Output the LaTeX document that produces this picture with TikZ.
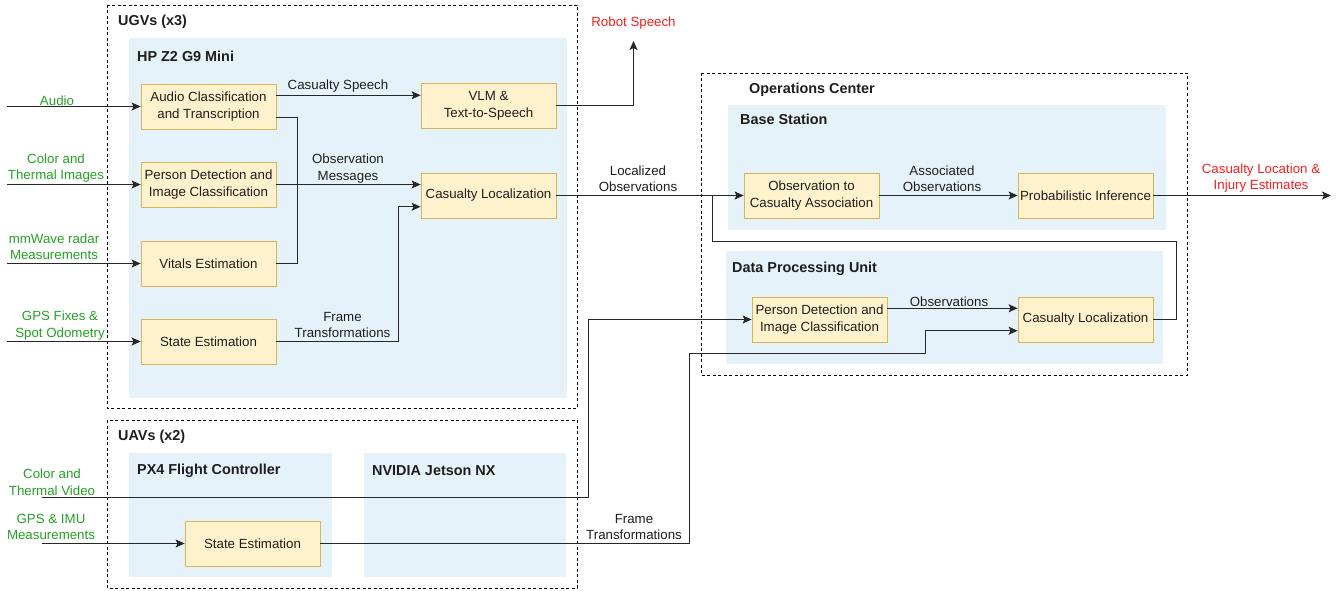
\documentclass[tikz,border=0pt]{standalone}
\usepackage{fontspec}
\setmainfont{Liberation Sans}
\usetikzlibrary{arrows.meta}
\definecolor{boxfill}{RGB}{255,242,204}
\definecolor{boxline}{RGB}{214,182,86}
\definecolor{bluefill}{RGB}{230,242,250}
\definecolor{ingreen}{RGB}{36,160,36}
\definecolor{outred}{RGB}{250,30,30}
\definecolor{txt}{RGB}{30,30,30}
\tikzset{
  proc/.style={draw=boxline, fill=boxfill, line width=0.8pt, minimum width=135pt, minimum height=45pt,
    inner sep=0pt, align=center, text=txt, font=\fontsize{13.3}{16.5}\selectfont},
  container/.style={fill=bluefill},
  group/.style={draw=black, line width=0.8pt, dash pattern=on 3pt off 2.5pt},
  hdr/.style={anchor=west, inner sep=0pt, font=\fontsize{14.4}{17}\selectfont\bfseries, text=txt},
  lbl/.style={align=center, inner sep=0pt, text=txt, font=\fontsize{13.3}{16.5}\selectfont},
  inlbl/.style={align=center, inner sep=0pt, text=ingreen, font=\fontsize{13.3}{16.5}\selectfont},
  outlbl/.style={align=center, inner sep=0pt, text=outred, font=\fontsize{13.3}{16.5}\selectfont},
  conn/.style={draw=black!85, line width=1pt},
  arr/.style={conn, -{Stealth[length=9pt,width=8pt,inset=2pt]}},
}
\begin{document}
\begin{tikzpicture}[x=1pt,y=-1pt]
\useasboundingbox (0,0) rectangle (1340,591);
% groups and containers
\draw[group] (107,5) rectangle (577,408);
\fill[container] (129,38) rectangle (567,398);
\node[hdr] (ugvh) at (118,22) {UGVs (x3)};
\node[hdr] (hph) at (137,56) {HP Z2 G9 Mini};

\draw[group] (107,420) rectangle (577,588);
\fill[container] (129,453) rectangle (332,577);
\fill[container] (364,453) rectangle (566,577);
\node[hdr] (uavh) at (118,437) {UAVs (x2)};
\node[hdr] (px4h) at (137,471) {PX4 Flight Controller};
\node[hdr] (jeth) at (372,471) {NVIDIA Jetson NX};

\draw[group] (701,73) rectangle (1187,375);
\fill[container] (728,105) rectangle (1166,230);
\fill[container] (726,251) rectangle (1163,364);
\node[hdr] (opsh) at (749,90) {Operations Center};
\node[hdr] (bsh) at (740,119) {Base Station};
\node[hdr] (dpuh) at (732,269) {Data Processing Unit};

% process boxes
\node[proc] (aud) at (208.5,106.5) {Audio Classification\\and Transcription};
\node[proc] (pdet) at (208.5,184.5) {Person Detection and\\Image Classification};
\node[proc] (vit) at (208.5,263.5) {Vitals Estimation};
\node[proc] (st) at (208.5,341.5) {State Estimation};
\node[proc] (vlm) at (488.5,106) {VLM \&\\Text-to-Speech};
\node[proc] (cloc) at (488.5,195.5) {Casualty Localization};
\node[proc] (oca) at (811.5,195.5) {Observation to\\Casualty Association};
\node[proc] (pinf) at (1085.5,195.5) {Probabilistic Inference};
\node[proc] (dpd) at (819.5,319.5) {Person Detection and\\Image Classification};
\node[proc] (dcl) at (1085.5,319.5) {Casualty Localization};
\node[proc] (ust) at (252.5,543.5) {State Estimation};

% coordinates
\coordinate (inAud) at (7,106.5);
\coordinate (inImg) at (7,184.5);
\coordinate (inRad) at (7,263.5);
\coordinate (inGpsU) at (7,341.5);
\coordinate (inVid) at (42,497);
\coordinate (inGps) at (42,543.5);
\coordinate (j1) at (297,184.5);
\coordinate (j2) at (398,206.75);
\coordinate (rs) at (633.5,41);
\coordinate (out) at (1331,195.5);
\coordinate (j3) at (1176,241);
\coordinate (j4) at (712,195.5);
\coordinate (j5) at (588,319.5);
\coordinate (j6) at (689,353);
\coordinate (j7) at (925,330.75);

% inputs
\draw[arr] (inAud) -- (aud.west);
\draw[arr] (inImg) -- (pdet.west);
\draw[arr] (inRad) -- (vit.west);
\draw[arr] (inGpsU) -- (st.west);
\draw[arr] (inGps) -- (ust.west);
\node[inlbl] (lAud) at (57,100.5) {Audio};
\node[inlbl] (lImg) at (56,168) {Color and\\Thermal Images};
\node[inlbl] (lRad) at (54,246.5) {mmWave radar\\Measurements};
\node[inlbl] (lGpsU) at (60,325.5) {GPS Fixes \&\\Spot Odometry};
\node[inlbl] (lVid) at (52,482) {Color and\\Thermal Video};
\node[inlbl] (lGps) at (51,527) {GPS \& IMU\\Measurements};

% UGV internal edges
\draw[arr] ([yshift=11.25pt]aud.east) -- ([yshift=11.25pt]aud.east -| vlm.west);
\node[lbl] (lCS) at (338,86.5) {Casualty Speech};
\draw[conn] ([yshift=-11.25pt]aud.east) -| (j1);
\draw[conn] (vit.east) -| (j1);
\draw[arr] (pdet.east) -- (pdet.east -| cloc.west);
\node[lbl] (lOM) at (348,168.5) {Observation\\Messages};
\draw[arr] (st.east) -| (j2) -- ([yshift=-11.25pt]cloc.west);
\node[lbl] (lFT1) at (342.5,325) {Frame\\Transformations};
\draw[arr] (vlm.east) -| (rs);
\node[outlbl] (lRS) at (633.5,23) {Robot Speech};

% to operations center
\draw[arr] (cloc.east) -- (oca.west);
\node[lbl] (lLO) at (638,178.5) {Localized\\Observations};
\draw[arr] (oca.east) -- (pinf.west);
\node[lbl] (lAO) at (942,178.5) {Associated\\Observations};
\draw[arr] (pinf.east) -- (out);
\node[outlbl] (lOut) at (1261,178) {Casualty Location \&\\Injury Estimates};
\draw[conn] (dcl.east) -| (j3) -| (j4);
\draw[arr] ([yshift=11.25pt]dpd.east) -- ([yshift=11.25pt]dpd.east -| dcl.west);
\node[lbl] (lObs) at (949,302) {Observations};

% UAV edges
\draw[arr] (inVid) -| (j5) -- (dpd.west);
\draw[arr] (ust.east) -| (j6) -| (j7) -- (j7 -| dcl.west);
\node[lbl] (lFT2) at (634,527) {Frame\\Transformations};
\end{tikzpicture}
\end{document}
